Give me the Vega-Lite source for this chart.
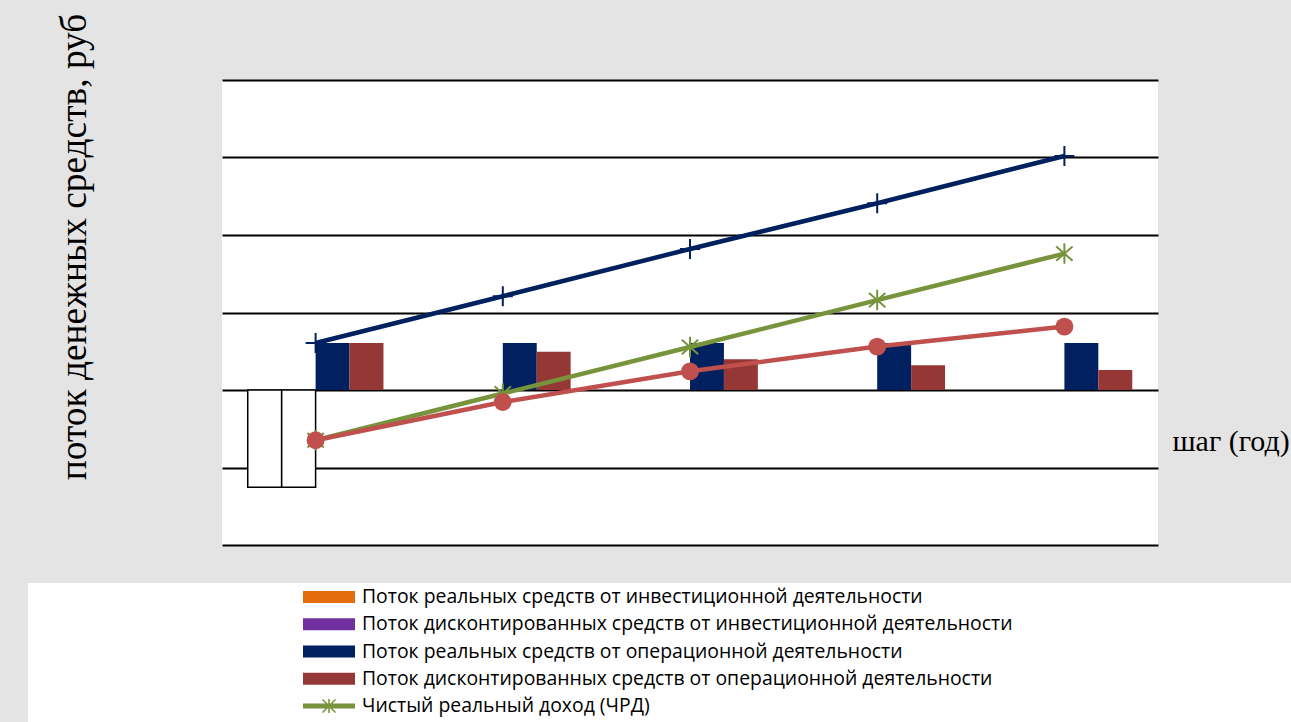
{
  "$schema": "https://vega.github.io/schema/vega-lite/v6.json",
  "background": "#e4e4e4",
  "padding": {"left": 28, "top": 13, "right": 0, "bottom": 0},
  "config": {"view": {"stroke": null}, "font": "Open Sans"},
  "datasets": {
    "bars": [
      {"step": 0, "series": "Поток реальных средств от инвестиционной деятельности", "value": -1.255},
      {"step": 0, "series": "Поток дисконтированных средств от инвестиционной деятельности", "value": -1.255},
      {"step": 0, "series": "Поток реальных средств от операционной деятельности", "value": 0.606},
      {"step": 1, "series": "Поток реальных средств от операционной деятельности", "value": 0.606},
      {"step": 2, "series": "Поток реальных средств от операционной деятельности", "value": 0.606},
      {"step": 3, "series": "Поток реальных средств от операционной деятельности", "value": 0.606},
      {"step": 4, "series": "Поток реальных средств от операционной деятельности", "value": 0.606},
      {"step": 0, "series": "Поток дисконтированных средств от операционной деятельности", "value": 0.606},
      {"step": 1, "series": "Поток дисконтированных средств от операционной деятельности", "value": 0.494},
      {"step": 2, "series": "Поток дисконтированных средств от операционной деятельности", "value": 0.396},
      {"step": 3, "series": "Поток дисконтированных средств от операционной деятельности", "value": 0.319},
      {"step": 4, "series": "Поток дисконтированных средств от операционной деятельности", "value": 0.258}
    ],
    "lines": [
      {"step": 0, "series": "Накопленный реальный поток", "value": 0.606},
      {"step": 1, "series": "Накопленный реальный поток", "value": 1.21},
      {"step": 2, "series": "Накопленный реальный поток", "value": 1.82},
      {"step": 3, "series": "Накопленный реальный поток", "value": 2.41},
      {"step": 4, "series": "Накопленный реальный поток", "value": 3.02},
      {"step": 0, "series": "Чистый реальный доход (ЧРД)", "value": -0.649},
      {"step": 1, "series": "Чистый реальный доход (ЧРД)", "value": -0.045},
      {"step": 2, "series": "Чистый реальный доход (ЧРД)", "value": 0.555},
      {"step": 3, "series": "Чистый реальный доход (ЧРД)", "value": 1.16},
      {"step": 4, "series": "Чистый реальный доход (ЧРД)", "value": 1.76},
      {"step": 0, "series": "Накопленный дисконтированный поток", "value": -0.649},
      {"step": 1, "series": "Накопленный дисконтированный поток", "value": -0.155},
      {"step": 2, "series": "Накопленный дисконтированный поток", "value": 0.241},
      {"step": 3, "series": "Накопленный дисконтированный поток", "value": 0.56},
      {"step": 4, "series": "Накопленный дисконтированный поток", "value": 0.818}
    ]
  },
  "vconcat": [
    {
      "hconcat": [
        {
          "width": 194,
          "height": 465,
          "view": {"fill": "#e4e4e4", "stroke": null},
          "data": {"values": []},
          "mark": "rect"
        },
        {
          "width": 936,
          "height": 465,
          "view": {"fill": "white", "stroke": null},
          "layer": [
            {
              "data": {"name": "bars"},
              "transform": [{"filter": {"field": "series", "oneOf": ["Поток реальных средств от инвестиционной деятельности", "Поток дисконтированных средств от инвестиционной деятельности"]}}],
              "mark": {"type": "bar", "fill": "white", "stroke": "black", "strokeWidth": 1.5},
              "encoding": {
                "x": {"field": "step", "type": "ordinal", "scale": {"type": "band", "paddingInner": 0.275, "paddingOuter": 0.1375},
                  "axis": {"title": "шаг (год)", "labels": false, "ticks": false, "domain": false, "grid": false,
                    "titleFont": "Liberation Serif", "titleFontSize": 30, "titleFontWeight": "normal", "titleColor": "black",
                    "titleAlign": "left", "titleBaseline": "alphabetic", "titleX": 950, "titleY": -95}},
                "xOffset": {"field": "series", "type": "nominal", "scale": {"domain": ["Поток реальных средств от инвестиционной деятельности", "Поток дисконтированных средств от инвестиционной деятельности", "Поток реальных средств от операционной деятельности", "Поток дисконтированных средств от операционной деятельности"], "paddingInner": 0, "paddingOuter": 0}},
                "y": {"field": "value", "type": "quantitative", "scale": {"domain": [-2, 4], "nice": false, "zero": false},
                  "axis": {"title": "поток денежных средств, руб", "labels": false, "ticks": false, "domain": false,
                    "grid": true, "gridColor": "black", "gridWidth": 1.8, "gridOpacity": 1, "values": [-2, -1, 0, 1, 2, 3, 4],
                    "titleFont": "Liberation Serif", "titleFontSize": 37.4, "titleFontWeight": "normal", "titleColor": "black",
                    "titleAngle": 270, "titleAlign": "center", "titleBaseline": "alphabetic", "titleX": -137, "titleY": 166.5}}
              }
            },
            {
              "data": {"name": "bars"},
              "transform": [{"filter": {"field": "series", "oneOf": ["Поток реальных средств от операционной деятельности", "Поток дисконтированных средств от операционной деятельности"]}}],
              "mark": {"type": "bar"},
              "encoding": {
                "x": {"field": "step", "type": "ordinal", "scale": {"type": "band", "paddingInner": 0.275, "paddingOuter": 0.1375}},
                "xOffset": {"field": "series", "type": "nominal", "scale": {"domain": ["Поток реальных средств от инвестиционной деятельности", "Поток дисконтированных средств от инвестиционной деятельности", "Поток реальных средств от операционной деятельности", "Поток дисконтированных средств от операционной деятельности"], "paddingInner": 0, "paddingOuter": 0}},
                "y": {"field": "value", "type": "quantitative"},
                "color": {"field": "series", "type": "nominal",
                  "scale": {"domain": ["Поток реальных средств от инвестиционной деятельности", "Поток дисконтированных средств от инвестиционной деятельности", "Поток реальных средств от операционной деятельности", "Поток дисконтированных средств от операционной деятельности", "Чистый реальный доход (ЧРД)"],
                    "range": ["#E46C0A", "#7030A0", "#002060", "#953735", "#77933C"]},
                  "legend": {"orient": "none", "legendX": 275, "legendY": 503.5, "direction": "vertical", "title": null, "padding": 0,
                    "symbolSize": 2704, "symbolStrokeWidth": 0, "clipHeight": 27, "rowPadding": 0.25, "labelOffset": 7,
                    "labelFont": "Open Sans", "labelFontSize": 19.4, "labelColor": "black", "labelLimit": 1000,
                    "encode": {"symbols": {"update": {
                      "shape": {"signal": "datum.value === 'Чистый реальный доход (ЧРД)' ? 'M-1,-0.1H1V0.1H-1ZM-0.03,-0.27H0.03V0.27H-0.03ZM-0.27,-0.23L-0.23,-0.27L0.27,0.23L0.23,0.27ZM0.23,-0.27L0.27,-0.23L-0.23,0.27L-0.27,0.23Z' : 'M-1,-0.23H1V0.23H-1Z'"},
                      "fill": {"scale": "color", "field": "value"},
                      "stroke": {"value": "transparent"},
                      "strokeWidth": {"value": 0},
                      "opacity": {"value": 1},
                      "size": {"value": 2704}
                    }}}}}
              }
            },
            {
              "data": {"name": "lines"},
              "transform": [{"filter": {"field": "series", "equal": "Накопленный реальный поток"}}],
              "mark": {"type": "line", "color": "#002060", "strokeWidth": 4.5},
              "encoding": {
                "x": {"field": "step", "type": "ordinal", "scale": {"type": "band"}},
                "y": {"field": "value", "type": "quantitative"}
              }
            },
            {
              "data": {"name": "lines"},
              "transform": [{"filter": {"field": "series", "equal": "Накопленный реальный поток"}}],
              "mark": {"type": "point", "shape": "M-1,0H1M0,-1V1", "filled": false, "stroke": "#002060", "strokeWidth": 2, "size": 400, "opacity": 1},
              "encoding": {
                "x": {"field": "step", "type": "ordinal", "scale": {"type": "band"}},
                "y": {"field": "value", "type": "quantitative"}
              }
            },
            {
              "data": {"name": "lines"},
              "transform": [{"filter": {"field": "series", "equal": "Чистый реальный доход (ЧРД)"}}],
              "mark": {"type": "line", "strokeWidth": 4.5},
              "encoding": {
                "x": {"field": "step", "type": "ordinal", "scale": {"type": "band"}},
                "y": {"field": "value", "type": "quantitative"},
                "color": {"field": "series", "type": "nominal"}
              }
            },
            {
              "data": {"name": "lines"},
              "transform": [{"filter": {"field": "series", "equal": "Чистый реальный доход (ЧРД)"}}],
              "mark": {"type": "point", "shape": "M0,-1V1M-0.8,-0.7L0.8,0.7M0.8,-0.7L-0.8,0.7", "filled": false, "stroke": "#77933C", "strokeWidth": 2, "size": 420, "opacity": 1},
              "encoding": {
                "x": {"field": "step", "type": "ordinal", "scale": {"type": "band"}},
                "y": {"field": "value", "type": "quantitative"}
              }
            },
            {
              "data": {"name": "lines"},
              "transform": [{"filter": {"field": "series", "equal": "Накопленный дисконтированный поток"}}],
              "mark": {"type": "line", "color": "#C0504D", "strokeWidth": 4.5},
              "encoding": {
                "x": {"field": "step", "type": "ordinal", "scale": {"type": "band"}},
                "y": {"field": "value", "type": "quantitative"}
              }
            },
            {
              "data": {"name": "lines"},
              "transform": [{"filter": {"field": "series", "equal": "Накопленный дисконтированный поток"}}],
              "mark": {"type": "circle", "color": "#C0504D", "size": 320, "opacity": 1},
              "encoding": {
                "x": {"field": "step", "type": "ordinal", "scale": {"type": "band"}},
                "y": {"field": "value", "type": "quantitative"}
              }
            }
          ]
        }
      ],
      "spacing": 0,
      "bounds": "flush"
    },
    {
      "width": 1263,
      "height": 139,
      "view": {"fill": "white", "stroke": null},
      "data": {"values": []},
      "mark": "rect"
    }
  ],
  "spacing": 38,
  "bounds": "full"
}
